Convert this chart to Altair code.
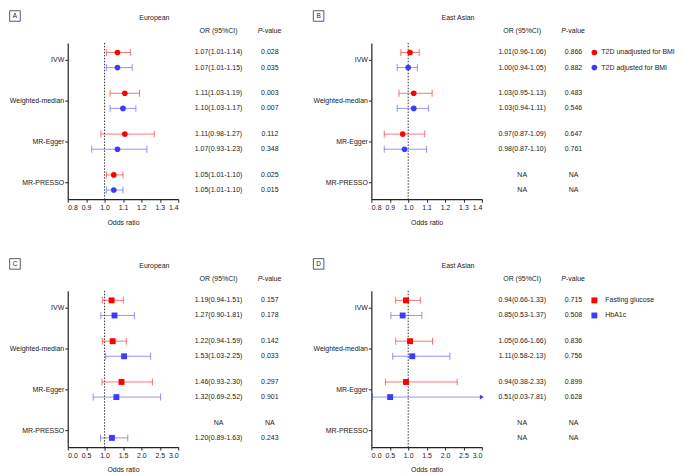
import json
import altair as alt
import pandas as pd

FONT = "Liberation Sans"
RED = "#ff0000"
BLUE = "#3b3bff"
FS = 7

methods = ["IVW", "Weighted-median", "MR-Egger", "MR-PRESSO"]

# ---- Panel A : European, T2D ----
a_series = ["T2D unadjusted for BMI", "T2D adjusted for BMI"]
a_or_1 = [1.07, 1.11, 1.11, 1.05]
a_lo_1 = [1.01, 1.03, 0.98, 1.01]
a_hi_1 = [1.14, 1.19, 1.27, 1.10]
a_p_1 = ["0.028", "0.003", "0.112", "0.025"]
a_or_2 = [1.07, 1.10, 1.07, 1.05]
a_lo_2 = [1.01, 1.03, 0.93, 1.01]
a_hi_2 = [1.15, 1.17, 1.23, 1.10]
a_p_2 = ["0.035", "0.007", "0.348", "0.015"]

# ---- Panel B : East Asian, T2D ----
b_or_1 = [1.01, 1.03, 0.97, None]
b_lo_1 = [0.96, 0.95, 0.87, None]
b_hi_1 = [1.06, 1.13, 1.09, None]
b_p_1 = ["0.866", "0.483", "0.647", "NA"]
b_or_2 = [1.00, 1.03, 0.98, None]
b_lo_2 = [0.94, 0.94, 0.87, None]
b_hi_2 = [1.05, 1.11, 1.10, None]
b_p_2 = ["0.882", "0.546", "0.761", "NA"]

# ---- Panel C : European, glycaemic traits ----
c_series = ["Fasting glucose", "HbA1c"]
c_or_1 = [1.19, 1.22, 1.46, None]
c_lo_1 = [0.94, 0.94, 0.93, None]
c_hi_1 = [1.51, 1.59, 2.30, None]
c_p_1 = ["0.157", "0.142", "0.297", "NA"]
c_or_2 = [1.27, 1.53, 1.32, 1.20]
c_lo_2 = [0.90, 1.03, 0.69, 0.89]
c_hi_2 = [1.81, 2.25, 2.52, 1.63]
c_p_2 = ["0.178", "0.033", "0.901", "0.243"]

# ---- Panel D : East Asian, glycaemic traits ----
d_or_1 = [0.94, 1.05, 0.94, None]
d_lo_1 = [0.66, 0.66, 0.38, None]
d_hi_1 = [1.33, 1.66, 2.33, None]
d_p_1 = ["0.715", "0.836", "0.899", "NA"]
d_or_2 = [0.85, 1.11, 0.51, None]
d_lo_2 = [0.53, 0.58, 0.03, None]
d_hi_2 = [1.37, 2.13, 7.81, None]
d_p_2 = ["0.508", "0.756", "0.628", "NA"]

ticks_t2d = [0.8, 0.9, 1.0, 1.1, 1.2, 1.3, 1.4]
ticks_gly = [0.0, 0.5, 1.0, 1.5, 2.0, 2.5, 3.0]


def make_df(series, o1, l1, h1, p1, o2, l2, h2, p2):
    rows = []
    for i, m in enumerate(methods):
        for s, o, l, h, p in ((series[0], o1[i], l1[i], h1[i], p1[i]),
                              (series[1], o2[i], l2[i], h2[i], p2[i])):
            txt = "NA" if o is None else f"{o:.2f}({l:.2f}-{h:.2f})"
            rows.append(dict(method=m, series=s, orv=o, lo=l, hi=h,
                             or_txt=txt, p_txt=p))
    return pd.DataFrame(rows)


W, H = 111, 157
OR_X, P_X = 151.5, 203


def panel(df, series, title, label, shape, size, xdom, xticks,
          legend_x=None, legend_tx=None):
    ycalc = (f"indexof({json.dumps(methods)}, datum.method) + "
             f"(datum.series === {json.dumps(series[0])} ? -0.18 : 0.19)")
    base = alt.Chart(df).transform_calculate(ypos=ycalc)
    xscale = alt.Scale(domain=xdom, nice=False, zero=False)
    xaxis = alt.Axis(values=xticks, format=".1f", title="Odds ratio",
                     labelPadding=1, titlePadding=8)

    def X(f):
        return alt.X(f, scale=xscale, axis=xaxis)

    labexpr = f"{json.dumps(methods)}[datum.value]"
    yenc = alt.Y("ypos:Q",
                 scale=alt.Scale(domain=[-0.415, 3.415], reverse=True,
                                 nice=False, zero=False),
                 axis=alt.Axis(values=[0, 1, 2, 3], labelExpr=labexpr,
                               title=None, labelPadding=1))
    color = alt.Color("series:N",
                      scale=alt.Scale(domain=series, range=[RED, BLUE]),
                      legend=None)

    ref = alt.Chart(pd.DataFrame({"ref": [1.0]})).mark_rule(
        strokeDash=[1.5, 1.5], color="#333", strokeWidth=1
    ).encode(x=X("ref:Q"))

    ci = base.mark_rule(opacity=0.55, strokeWidth=1, clip=True).encode(
        x=X("lo:Q"), x2="hi:Q", y=yenc, color=color)
    cap_lo = base.mark_tick(orient="vertical", size=7, thickness=1,
                            opacity=0.55, clip=True).encode(
        x=X("lo:Q"), y=yenc, color=color)
    cap_hi = base.mark_tick(orient="vertical", size=7, thickness=1,
                            opacity=0.55, clip=True).encode(
        x=X("hi:Q"), y=yenc, color=color)
    pts = base.mark_point(filled=True, shape=shape, size=size,
                          opacity=1).encode(x=X("orv:Q"), y=yenc, color=color)
    arrow = base.transform_filter(f"datum.hi > {xdom[1]}").transform_calculate(
        xa=str(xdom[1])
    ).mark_point(shape="triangle-right", filled=True, size=22,
                 opacity=1).encode(x=X("xa:Q"), y=yenc, color=color)

    txt_or = base.mark_text(align="center", baseline="middle", fontSize=FS,
                            color="#222").encode(
        x=alt.value(OR_X), y=yenc, text="or_txt:N")
    txt_p = base.mark_text(align="center", baseline="middle", fontSize=FS,
                           color="#222").encode(
        x=alt.value(P_X), y=yenc, text="p_txt:N")

    hdr = pd.DataFrame({"h": ["OR (95%CI)"], "p": ["P"], "v": ["-value"],
                        "t": [title], "l": [label]})
    hc = alt.Chart(hdr)
    h_or = hc.mark_text(align="center", baseline="middle", fontSize=FS,
                        color="#222").encode(x=alt.value(OR_X),
                                             y=alt.value(-12), text="h:N")
    h_p = hc.mark_text(align="right", baseline="middle", fontSize=FS,
                       fontStyle="italic", color="#222").encode(
        x=alt.value(P_X - 7.5), y=alt.value(-12), text="p:N")
    h_v = hc.mark_text(align="left", baseline="middle", fontSize=FS,
                       color="#222").encode(
        x=alt.value(P_X - 7.5), y=alt.value(-12), text="v:N")
    h_t = hc.mark_text(align="center", baseline="middle", fontSize=FS,
                       color="#222").encode(x=alt.value(87), y=alt.value(-25),
                                            text="t:N")
    box = hc.mark_point(shape="square", filled=False, size=112,
                        stroke="#333", strokeWidth=0.8, opacity=1).encode(
        x=alt.value(-53), y=alt.value(-27))
    lab = hc.mark_text(align="center", baseline="middle", fontSize=6.5,
                       color="#222").encode(x=alt.value(-53),
                                            y=alt.value(-27), text="l:N")

    layers = [ref, ci, cap_lo, cap_hi, pts, arrow, txt_or, txt_p,
              h_or, h_p, h_v, h_t, box, lab]

    if legend_x is not None:
        ldf = pd.DataFrame({"method": ["IVW", "IVW"], "series": series})
        lbase = alt.Chart(ldf).transform_calculate(ypos=ycalc)
        lp = lbase.mark_point(filled=True, shape=shape, size=size,
                              opacity=1).encode(x=alt.value(legend_x),
                                                y=yenc, color=color)
        lt = lbase.mark_text(align="left", baseline="middle", fontSize=FS,
                             color="#222").encode(x=alt.value(legend_tx),
                                                  y=yenc, text="series:N")
        layers += [lp, lt]

    return alt.layer(*layers).properties(width=W, height=H)


A = panel(make_df(a_series, a_or_1, a_lo_1, a_hi_1, a_p_1,
                  a_or_2, a_lo_2, a_hi_2, a_p_2),
          a_series, "European", "A", "circle", 32, [0.8, 1.4], ticks_t2d)
B = panel(make_df(a_series, b_or_1, b_lo_1, b_hi_1, b_p_1,
                  b_or_2, b_lo_2, b_hi_2, b_p_2),
          a_series, "East Asian", "B", "circle", 32, [0.8, 1.4], ticks_t2d,
          legend_x=224, legend_tx=231)
C = panel(make_df(c_series, c_or_1, c_lo_1, c_hi_1, c_p_1,
                  c_or_2, c_lo_2, c_hi_2, c_p_2),
          c_series, "European", "C", "square", 35, [0.0, 3.0], ticks_gly)
D = panel(make_df(c_series, d_or_1, d_lo_1, d_hi_1, d_p_1,
                  d_or_2, d_lo_2, d_hi_2, d_p_2),
          c_series, "East Asian", "D", "square", 35, [0.0, 3.0], ticks_gly,
          legend_x=224, legend_tx=235)

chart = alt.concat(A, B, C, D, columns=2,
                   spacing={"row": 92, "column": 194}, bounds="flush"
                   ).resolve_scale(color="independent", x="independent",
                                   y="independent"
                   ).properties(padding=0
                   ).configure(font=FONT
                   ).configure_view(stroke=None
                   ).configure_axis(labelFont=FONT, labelFontSize=FS,
                                    labelColor="#222", domainColor="#222",
                                    tickColor="#222", tickSize=3, grid=False,
                                    domainWidth=1.2, tickWidth=1,
                                    titleFont=FONT, titleFontSize=FS,
                                    titleFontWeight="normal",
                                    titleColor="#222")

chart.save("out.html", embed_options={"renderer": "svg", "actions": False})
